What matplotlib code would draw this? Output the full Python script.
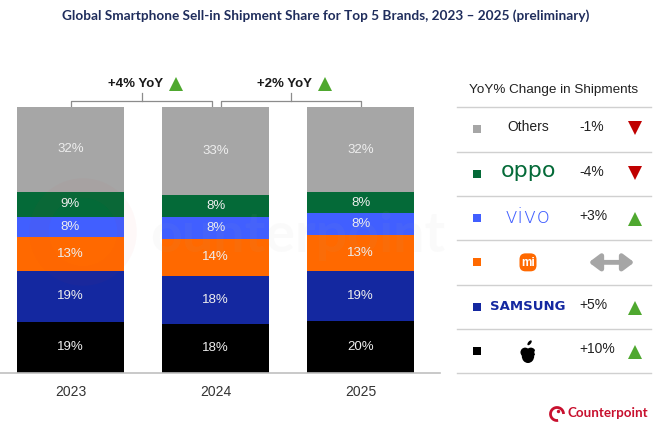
import numpy as np
import matplotlib
matplotlib.use('Agg')
import matplotlib.pyplot as plt
from matplotlib.patches import Circle, Ellipse, FancyBboxPatch, Arc, FancyArrowPatch

# shares per year, bottom segment first (Apple, Samsung, Xiaomi, vivo, OPPO, Others)
years = ['2023', '2024', '2025']
apple = [19.2, 18.2, 19.6]
samsung = [19.2, 18.3, 18.7]
xiaomi = [12.7, 13.8, 13.4]
vivo = [7.6, 8.2, 8.2]
oppo = [9.4, 8.4, 7.9]
others = [31.9, 33.1, 32.2]

# total market YoY between consecutive years
total_yoy = ['+4% YoY', '+2% YoY']

# legend table, top row first
legend_brands = ['Others', 'oppo', 'vivo', 'Xiaomi', 'SAMSUNG', 'Apple']
legend_yoy = [-1, -4, 3, 0, 5, 10]

colors = {'Apple': '#000000', 'SAMSUNG': '#1428a0', 'Xiaomi': '#ff6900',
          'vivo': '#415fff', 'oppo': '#046a38', 'Others': '#a6a6a6'}
green = '#4fa82f'
red = '#c00000'

plt.rcParams['font.family'] = ['Liberation Sans', 'DejaVu Sans']

fig = plt.figure(figsize=(6.6, 4.3), dpi=100)
W, H = 660, 430

# main bar axes, placed in pixel terms
bar_top, bar_bottom = 106.7, 372.7
ax = fig.add_axes([0, (H - bar_bottom) / H, 440 / W, (bar_bottom - bar_top) / H])
x = np.arange(len(years))
width = 0.738
segments = [('Apple', apple), ('SAMSUNG', samsung), ('Xiaomi', xiaomi),
            ('vivo', vivo), ('oppo', oppo), ('Others', others)]
bottom = np.zeros(len(years))
for name, vals in segments:
    vals = np.array(vals)
    ax.bar(x, vals, width, bottom=bottom, color=colors[name], edgecolor='none', zorder=2)
    for xi, b, v in zip(x, bottom, vals):
        ax.text(xi, b + v / 2, '{:.0f}%'.format(v), ha='center', va='center',
                color='#eeeeee', fontsize=9.5, zorder=3)
    bottom += vals

ax.set_ylim(0, 100)
ax.set_xlim(-0.486, 2.548)
ax.set_xticks(x)
ax.set_xticklabels(years, fontsize=10, color='#333333')
ax.tick_params(axis='x', length=0, pad=9)
ax.set_yticks([])
for s in ['top', 'left', 'right']:
    ax.spines[s].set_visible(False)
ax.spines['bottom'].set_color('#c0c0c0')
ax.spines['bottom'].set_linewidth(1.2)
ax.set_facecolor('none')

# YoY brackets above the bars
br_y, tick_y, txt_y = 102.3, 105.0, 108.6
offsets = [(0.005, -0.025), (0.035, 0.0)]
for i, label in enumerate(total_yoy):
    x0 = x[i] + offsets[i][0]
    x1 = x[i + 1] + offsets[i][1]
    xm = (x0 + x1) / 2
    ax.plot([x0, x0, x1, x1], [100, br_y, br_y, 100], color='#8c8c8c', lw=0.9,
            clip_on=False, zorder=1)
    ax.plot([xm, xm], [br_y, tick_y], color='#8c8c8c', lw=0.9, clip_on=False)
    ax.text(xm - 0.04, txt_y, label, ha='center', va='center', fontsize=9.5,
            fontweight='bold', color='#1a1a1a', clip_on=False)
    ax.plot(xm + 0.235, txt_y, marker='^', ms=9.5, color=green, clip_on=False,
            markeredgewidth=0)

# overlay in pixel coordinates for title, legend table and logos
ov = fig.add_axes([0, 0, 1, 1], zorder=5)
ov.set_xlim(0, W)
ov.set_ylim(H, 0)
ov.axis('off')
ov.patch.set_alpha(0)

ov.text(326, 16, 'Global Smartphone Sell-in Shipment Share for Top 5 Brands, 2023 \u2013 2025 (preliminary)',
        ha='center', va='center', fontsize=9.8, fontweight='bold', color='#1f2d5c',
        family=['Lato', 'DejaVu Sans'])

# faint watermark
ov.add_patch(Circle((83, 232), 44, fill=False, lw=14, color='#e03030', alpha=0.03))
ov.text(150, 236, 'ounterpoint', ha='left', va='center', fontsize=40, fontweight='bold',
        color='#b0b0b0', alpha=0.05, family=['Lato', 'DejaVu Sans'])

# legend table
ov.text(554, 90, 'YoY% Change in Shipments', ha='center', va='center', fontsize=9.7,
        color='#222222')
row_h = 44.3
first_line = 107.3
for k in range(len(legend_brands) + 1):
    yl = first_line + k * row_h
    ov.plot([457, 651], [yl, yl], color='#d0d0d0', lw=1.0)

for k, (brand, chg) in enumerate(zip(legend_brands, legend_yoy)):
    yc = first_line + (k + 0.5) * row_h
    ov.plot(476.5, yc, marker='s', ms=6, color=colors[brand], markeredgewidth=0)
    bx = 528
    if brand == 'Others':
        ov.text(bx, yc - 2, 'Others', ha='center', va='center', fontsize=10, color='#222222')
    elif brand == 'oppo':
        ov.text(bx, yc - 3, 'oppo', ha='center', va='center', fontsize=16,
                color=colors[brand], family=['DejaVu Sans'])
    elif brand == 'vivo':
        ov.text(bx, yc - 1, 'vivo', ha='center', va='center', fontsize=16,
                color=colors[brand], family=['DejaVu Sans'], fontweight='light')
    elif brand == 'Xiaomi':
        ov.add_patch(FancyBboxPatch((bx - 8.5, yc - 9), 17, 18,
                                    boxstyle='round,pad=0,rounding_size=6',
                                    color=colors[brand], lw=0))
        ov.text(bx, yc + 0.5, 'mi', ha='center', va='center', fontsize=8.5,
                fontweight='bold', color='white')
    elif brand == 'SAMSUNG':
        ov.text(bx, yc, 'SAMSUNG', ha='center', va='center', fontsize=9.5,
                fontweight='bold', color=colors[brand], family=['DejaVu Sans'])
    elif brand == 'Apple':
        s = 13
        cy = yc + 2
        ov.add_patch(Circle((bx - 0.22 * s, cy - 0.05 * s), 0.36 * s, color='black', lw=0))
        ov.add_patch(Circle((bx + 0.22 * s, cy - 0.05 * s), 0.36 * s, color='black', lw=0))
        ov.add_patch(Ellipse((bx, cy + 0.25 * s), 0.95 * s, 1.05 * s, color='black', lw=0))
        ov.add_patch(Circle((bx + 0.75 * s, cy - 0.05 * s), 0.26 * s, color='white', lw=0))
        ov.add_patch(Ellipse((bx + 0.12 * s, cy - 0.78 * s), 0.22 * s, 0.45 * s, angle=40,
                             color='black', lw=0))
    if chg == 0:
        ov.add_patch(FancyArrowPatch((586, yc), (637, yc),
                                     arrowstyle='<|-|>,head_length=4,head_width=3',
                                     color='#a6a6a6', lw=3.5, mutation_scale=1.6))
    else:
        ov.text(579, yc - 2, '{:+d}%'.format(chg), ha='left', va='center', fontsize=10,
                color='#222222')
        if chg > 0:
            ov.plot(634.5, yc + 1, marker='^', ms=10, color=green, markeredgewidth=0)
        else:
            ov.plot(634.5, yc - 1, marker='v', ms=10, color=red, markeredgewidth=0)

# Counterpoint logo bottom right
logo_red = '#c8102e'
ov.add_patch(Arc((557, 414), 13, 13, theta1=80, theta2=360, color=logo_red, lw=2))
ov.add_patch(Circle((558.5, 411.5), 1.7, color=logo_red, lw=0))
ov.text(568, 413, 'Counterpoint', ha='left', va='center', fontsize=9.6, fontweight='bold',
        color=logo_red, family=['Lato', 'DejaVu Sans'])

fig.savefig('out.png', dpi=100)
